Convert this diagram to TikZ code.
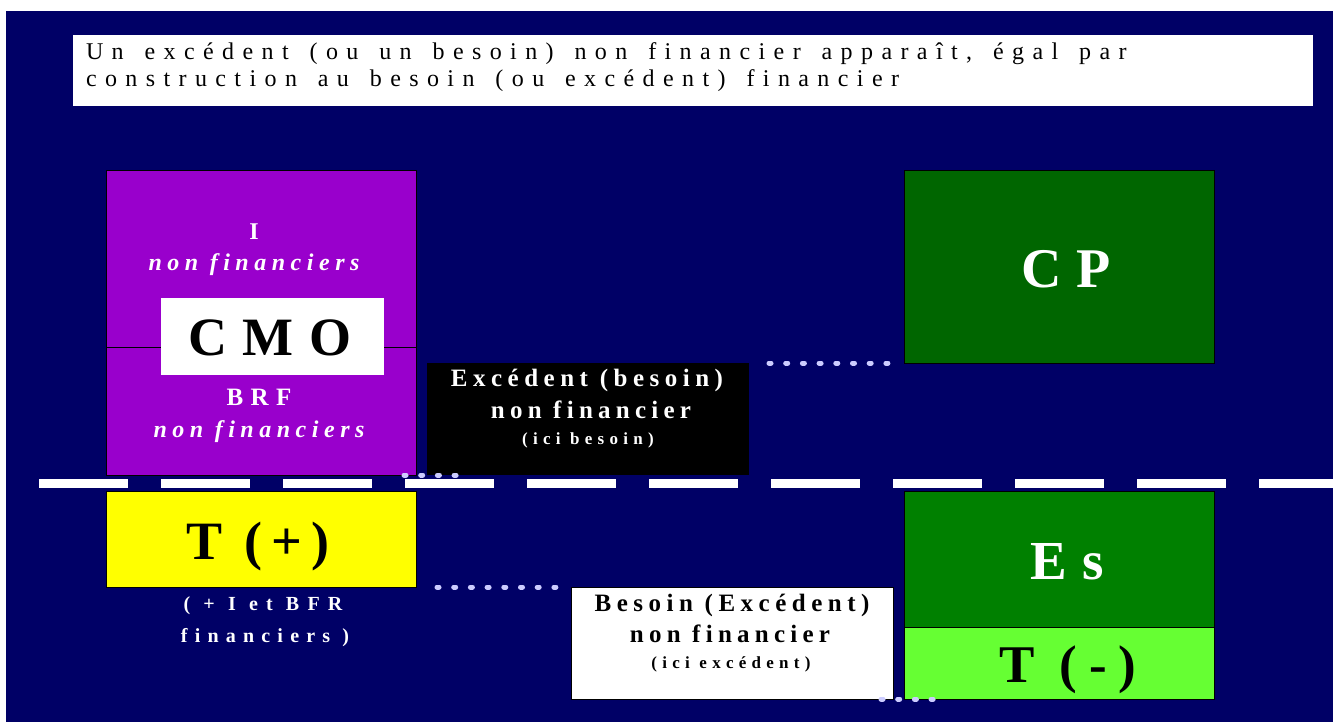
\documentclass[tikz,border=0pt]{standalone}
\usepackage{fontspec}
\setmainfont{Liberation Serif}
\definecolor{navy}{HTML}{000066}
\definecolor{purp}{HTML}{9900CC}
\definecolor{yel}{HTML}{FFFF00}
\definecolor{cpgreen}{HTML}{006600}
\definecolor{esgreen}{HTML}{008000}
\definecolor{lime}{HTML}{66FF33}
\definecolor{dotc}{HTML}{CCCCFF}
% size, letterspace, switches, text
\newcommand\txt[4]{{#3\fontsize{#1}{#1}\selectfont\addfontfeature{LetterSpace=#2}#4}}
\newcommand\ttl[1]{{\fontsize{24}{24}\selectfont\addfontfeature{LetterSpace=35}\spaceskip=\dimexpr\fontdimen2\font+6.5pt\relax #1}}
\tikzset{
  box/.style={draw=black, line width=1pt, inner sep=0pt, outer sep=0pt, anchor=north west},
  lbl/.style={inner sep=0pt, outer sep=0pt, anchor=base},
  dots/.style={dotc, line width=5pt, line cap=round, dash pattern=on 2pt off 14.7pt},
  sep/.style={white, line width=9pt, dash pattern=on 89pt off 33pt}
}
\begin{document}
\begin{tikzpicture}[x=1pt,y=-1pt]
\useasboundingbox (0,0) rectangle (1340,722);
\fill[white] (0,0) rectangle (1340,722);
\fill[navy] (6,11) rectangle (1333,722);

% title
\node[box, fill=white, draw=none, minimum width=1240pt, minimum height=71pt] (title) at (73,35) {};
\node[lbl, anchor=base west] (top1) at (86,60) {\ttl{Un excédent (ou un besoin) non financier apparaît, égal par}};
\node[lbl, anchor=base west] (top2) at (86,87) {\ttl{construction au besoin (ou excédent) financier}};

% purple block
\node[box, fill=purp, minimum width=310pt, minimum height=304pt] (pur) at (106,171) {};
\draw[black, line width=1pt] (106,347) -- (416,347);
\node[box, fill=white, draw=none, minimum width=223pt, minimum height=77pt] (cmobox) at (161,298) {};
\node[lbl, text=white] (iI) at (254,239) {\txt{24}{23}{\bfseries}{I}};
\node[lbl, text=white] (inf) at (254,270) {\txt{24}{23}{\bfseries\itshape}{non financiers}};
\node[lbl] (cmo) at (270,355) {\txt{54}{29}{\bfseries}{CMO}};
\node[lbl, text=white] (brf) at (259,405) {\txt{25}{30}{\bfseries}{BRF}};
\node[lbl, text=white] (bnf) at (259,437) {\txt{24}{23}{\bfseries\itshape}{non financiers}};

% black block
\node[box, fill=black, draw=none, minimum width=322pt, minimum height=112pt] (blk) at (427,363) {};
\node[lbl, text=white] (b1) at (587,386) {\txt{25}{22}{\bfseries}{Excédent (besoin)}};
\node[lbl, text=white] (b2) at (591,418) {\txt{25}{21}{\bfseries}{non financier}};
\node[lbl, text=white] (b3) at (588,444) {\txt{17}{31}{\bfseries}{(ici besoin)}};

% CP
\node[box, fill=cpgreen, minimum width=310pt, minimum height=192pt] (cp) at (904,171) {};
\node[lbl, text=white] (cpt) at (1066,287) {\txt{56}{27}{\bfseries}{CP}};

% separator
\coordinate (sepL) at (39,483.5);
\coordinate (sepR) at (1333,483.5);
\draw[sep] (sepL) -- (sepR);

% T(+)
\node[box, fill=yel, minimum width=310pt, minimum height=96pt] (tp) at (106,491) {};
\node[lbl] (tpt) at (258,559) {\txt{54}{17}{\bfseries}{T (+)}};
\node[lbl, text=white] (f1) at (263,610) {\txt{20}{41}{\bfseries}{( + I et BFR}};
\node[lbl, text=white] (f2) at (265,642) {\txt{20}{36}{\bfseries}{financiers )}};

% white block
\node[box, fill=white, minimum width=322pt, minimum height=112pt] (wht) at (571,587) {};
\node[lbl] (w1) at (732,611) {\txt{25}{22}{\bfseries}{Besoin (Excédent)}};
\node[lbl] (w2) at (730,642) {\txt{25}{21}{\bfseries}{non financier}};
\node[lbl] (w3) at (731,668) {\txt{17}{31}{\bfseries}{(ici excédent)}};

% Es / T(-)
\node[box, fill=esgreen, minimum width=310pt, minimum height=136pt] (es) at (904,491) {};
\node[box, fill=lime, minimum width=310pt, minimum height=72pt] (tm) at (904,627) {};
\node[lbl, text=white] (est) at (1067,579) {\txt{55}{27}{\bfseries}{Es}};
\node[lbl] (tmt) at (1068,682) {\txt{53}{22}{\bfseries}{T (-)}};

% dotted links
\coordinate (dA1) at (404,475); \coordinate (dA2) at (460,475);
\coordinate (dB1) at (769,363); \coordinate (dB2) at (892,363);
\coordinate (dC1) at (437,587); \coordinate (dC2) at (560,587);
\coordinate (dD1) at (881,699); \coordinate (dD2) at (936,699);
\draw[dots] (dA1) -- (dA2);
\draw[dots] (dB1) -- (dB2);
\draw[dots] (dC1) -- (dC2);
\draw[dots] (dD1) -- (dD2);
\end{tikzpicture}
\end{document}
